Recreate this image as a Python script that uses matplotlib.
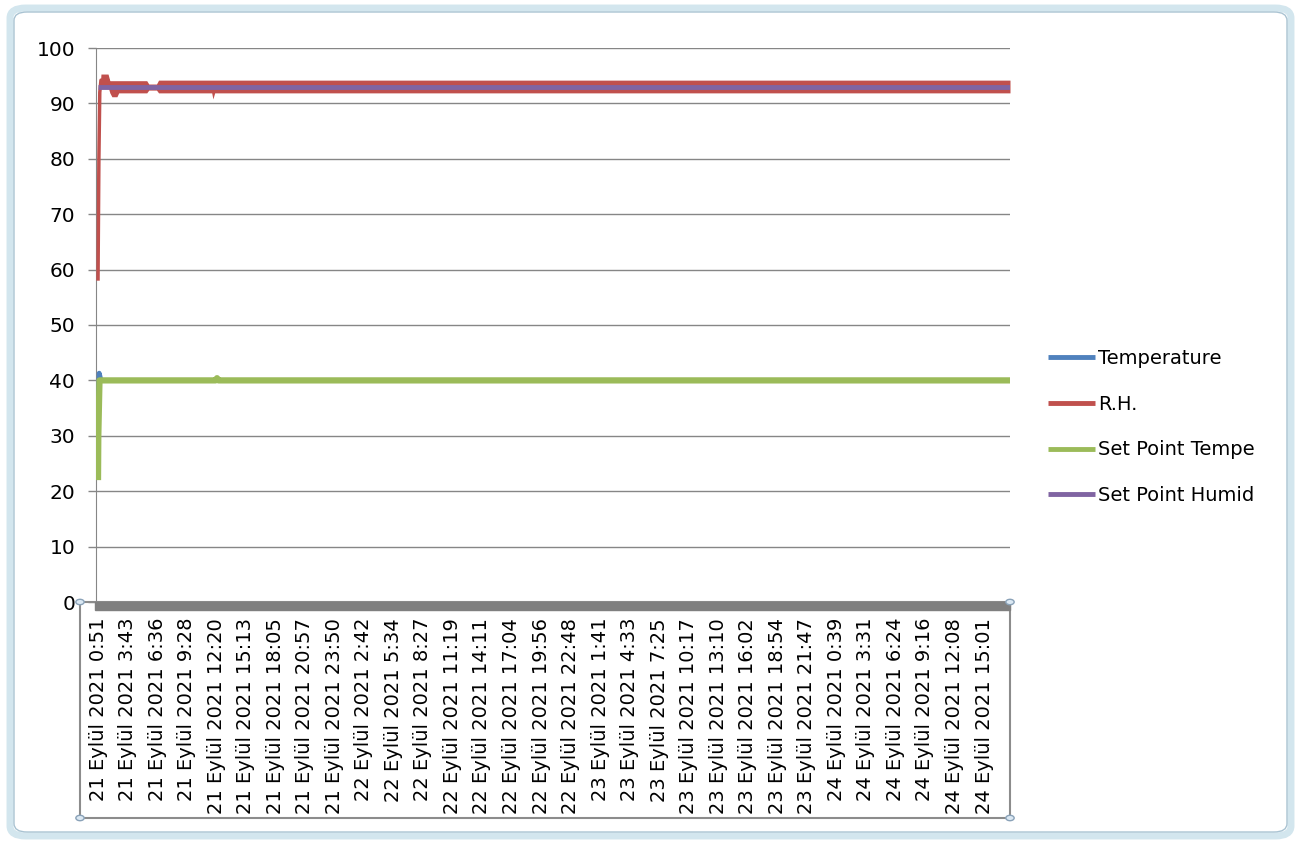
import matplotlib
matplotlib.use("Agg")
import matplotlib.pyplot as plt
from matplotlib.patches import Rectangle, FancyBboxPatch, Circle
import numpy as np

plt.rcParams['font.family'] = ['DejaVu Sans']

# tick labels of the category axis (one every ~172 rows)
tick_labels = [
    "21 Eylül 2021 0:51", "21 Eylül 2021 3:43", "21 Eylül 2021 6:36", "21 Eylül 2021 9:28",
    "21 Eylül 2021 12:20", "21 Eylül 2021 15:13", "21 Eylül 2021 18:05", "21 Eylül 2021 20:57",
    "21 Eylül 2021 23:50", "22 Eylül 2021 2:42", "22 Eylül 2021 5:34", "22 Eylül 2021 8:27",
    "22 Eylül 2021 11:19", "22 Eylül 2021 14:11", "22 Eylül 2021 17:04", "22 Eylül 2021 19:56",
    "22 Eylül 2021 22:48", "23 Eylül 2021 1:41", "23 Eylül 2021 4:33", "23 Eylül 2021 7:25",
    "23 Eylül 2021 10:17", "23 Eylül 2021 13:10", "23 Eylül 2021 16:02", "23 Eylül 2021 18:54",
    "23 Eylül 2021 21:47", "24 Eylül 2021 0:39", "24 Eylül 2021 3:31", "24 Eylül 2021 6:24",
    "24 Eylül 2021 9:16", "24 Eylül 2021 12:08", "24 Eylül 2021 15:01",
]

# positions are in "label steps" (0 = first label, 30 = last label)
temp_x = [0.00, 0.02, 0.04, 0.10, 30.88]
temp_y = [30.0, 38.0, 41.3, 40.0, 40.0]

rh_x = [0.00, 0.03, 0.06, 0.10, 0.34, 0.40, 0.47, 0.64, 0.70, 1.65, 1.72, 1.98, 2.05, 3.85, 3.89, 3.95, 30.88]
rh_y = [58.0, 80.0, 92.0, 94.2, 94.2, 93.0, 92.6, 92.6, 93.0, 93.0, 93.0, 93.0, 93.0, 93.0, 92.4, 93.0, 93.0]
rh_lo = [58.0, 80.0, 92.0, 93.0, 93.0, 91.9, 91.2, 91.2, 91.9, 91.9, 92.4, 92.4, 91.9, 91.9, 90.8, 91.9, 91.9]
rh_hi = [58.0, 80.0, 92.0, 95.3, 95.3, 94.1, 94.1, 94.1, 94.1, 94.1, 93.5, 93.5, 94.2, 94.2, 94.2, 94.2, 94.2]

sp_temp_x = [0.00, 0.01, 0.05, 3.98, 4.03, 4.08, 30.88]
sp_temp_y = [22.0, 30.0, 40.0, 40.0, 40.4, 40.0, 40.0]

sp_hum_x = [0.00, 30.88]
sp_hum_y = [93.0, 93.0]

series_names = ["Temperature", "R.H.", "Set Point Tempe", "Set Point Humid"]
colors = ["#4F81BD", "#C0504D", "#9BBB59", "#8064A2"]

W, H = 1301, 844
fig = plt.figure(figsize=(W / 100, H / 100), dpi=100)
fig.patch.set_facecolor("white")

def fx(px):
    return px / W

def fy(py):
    return 1 - py / H

# chart area frame (excel selection look)
fig.patches.append(FancyBboxPatch((fx(10), fy(836)), fx(1281), 828 / H,
                                  boxstyle="round,pad=0,rounding_size=0.012",
                                  transform=fig.transFigure, facecolor="none",
                                  edgecolor="#d3e6ee", lw=5, zorder=-2))
fig.patches.append(FancyBboxPatch((fx(14), fy(832)), fx(1273), 820 / H,
                                  boxstyle="round,pad=0,rounding_size=0.01",
                                  transform=fig.transFigure, facecolor="none",
                                  edgecolor="#a9c3d2", lw=1, zorder=-2))

ax = fig.add_axes([fx(96), fy(602), fx(1010) - fx(96), (602 - 48) / H])
ax.set_facecolor("none")

ax.plot(temp_x, temp_y, color=colors[0], lw=3.5, solid_capstyle="butt", label=series_names[0], zorder=3)
ax.fill_between(rh_x, rh_lo, rh_hi, color=colors[1], lw=0, zorder=4)
ax.plot(rh_x, rh_y, color=colors[1], lw=2.5, solid_capstyle="butt", label=series_names[1], zorder=4)
ax.plot(sp_temp_x, sp_temp_y, color=colors[2], lw=4.5, solid_capstyle="butt", label=series_names[2], zorder=5)
ax.plot(sp_hum_x, sp_hum_y, color=colors[3], lw=3.5, solid_capstyle="butt", label=series_names[3], zorder=6)

ax.set_ylim(0, 100)
ax.set_xlim(-0.068, 30.88)
ax.set_yticks(np.arange(0, 101, 10))
ax.set_xticks(np.arange(len(tick_labels)))
ax.set_xticklabels(tick_labels, rotation=90, fontsize=14, va="top", ha="center")
ax.tick_params(axis="x", length=0, pad=11.5)
ax.tick_params(axis="y", length=6, width=1, color="#868686", pad=9, labelsize=14.5)
ax.yaxis.grid(True, color="#868686", lw=1)
ax.set_axisbelow(True)
for s in ["top", "right", "bottom"]:
    ax.spines[s].set_visible(False)
ax.spines["left"].set_color("#868686")

# dense category tick marks merge into a grey band under the axis
fig.patches.append(Rectangle((fx(95), fy(610)), fx(1010) - fx(95), 8 / H,
                             transform=fig.transFigure, color="#7f7f7f", zorder=5))

# selected axis box with handles
fig.patches.append(Rectangle((fx(80), fy(818)), fx(1010) - fx(80), (818 - 602) / H,
                             transform=fig.transFigure, facecolor="none",
                             edgecolor="#8c8c8c", lw=1.5, zorder=4))
for cx, cy in [(80, 602), (1010, 602), (80, 818), (1010, 818)]:
    fig.patches.append(Circle((fx(cx), fy(cy)), 0.0032, transform=fig.transFigure,
                              facecolor="#dbe8f3", edgecolor="#8aa2b8", lw=1, zorder=6))

handles, labels = ax.get_legend_handles_labels()
leg = fig.legend(handles, labels, loc="center left", bbox_to_anchor=(fx(1030), fy(427)),
                 frameon=False, fontsize=14, handlelength=2.45, handletextpad=0.15,
                 labelspacing=1.37)
for h in leg.legend_handles:
    h.set_linewidth(3.5)

fig.savefig("out.png", dpi=100)
